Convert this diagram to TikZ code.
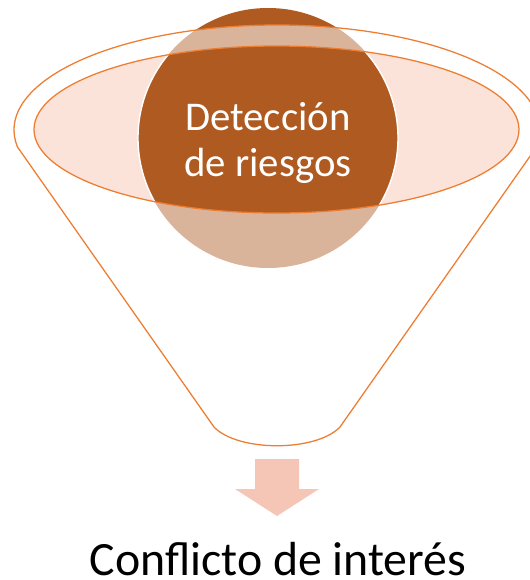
\documentclass[tikz,border=0pt]{standalone}
\usepackage{fontspec}
\setmainfont{Carlito}
\definecolor{rustbrown}{HTML}{AE5A21}
\definecolor{peach}{HTML}{FBE3D9}
\definecolor{funnelorange}{HTML}{ED7D31}
\definecolor{arrowpink}{HTML}{F5C6B5}
\tikzset{funnelline/.style={draw=funnelorange, line width=0.9pt}}
\begin{document}
\begin{tikzpicture}[x=0.025cm,y=0.025cm]
\useasboundingbox (0,0) rectangle (529,-580);
\fill[rustbrown] (268,-138) circle (130);
\fill[white, fill opacity=0.55] ([shift={(277,-130)}]189.3:263 and 105) arc[start angle=189.3, end angle=-9.3, x radius=263, y radius=105] -- (340,-427) .. controls (316,-452) and (238,-452) .. (214,-427) -- cycle;
\fill[peach] (276.5,-129.5) ellipse (242.5 and 83.5);
\begin{scope}
\clip (276.5,-129.5) ellipse (242.5 and 83.5);
\filldraw[rustbrown, draw=white, line width=1pt] (268,-138) circle (130);
\end{scope}
\draw[funnelline] (276.5,-129.5) ellipse (242.5 and 83.5);
\draw[funnelline] ([shift={(277,-130)}]189.3:263 and 105) arc[start angle=189.3, end angle=-9.3, x radius=263, y radius=105] -- (340,-427) .. controls (316,-452) and (238,-452) .. (214,-427) -- cycle;
\node[text=white, align=center, font=\fontsize{29}{33}\selectfont] (detect) at (268,-143) {Detección\\de riesgos};
\fill[arrowpink] (255,-459) -- (299,-459) -- (299,-489) -- (319,-489) -- (277,-516) -- (235,-489) -- (255,-489) -- cycle;
\node[anchor=base, inner sep=0pt, font=\fontsize{34}{40}\selectfont] (conflict) at (278,-575) {Conflicto de interés};
\end{tikzpicture}
\end{document}
